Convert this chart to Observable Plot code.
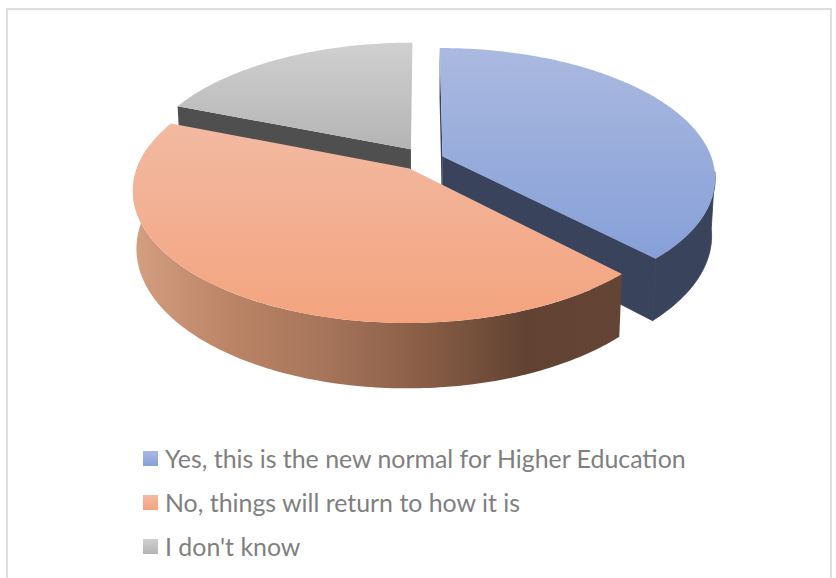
<!DOCTYPE html>
<html><head><meta charset="utf-8">
<script src="https://cdn.jsdelivr.net/npm/d3@7"></script>
<script src="https://cdn.jsdelivr.net/npm/@observablehq/plot@0.6"></script>
<style>
html,body{margin:0;padding:0;background:#fff;width:836px;height:578px;overflow:hidden}
#frame{position:absolute;left:6px;top:8px;width:826px;height:580px;border:2px solid #dedede;box-sizing:border-box}
#chart{position:absolute;left:0;top:0}
#legend{position:absolute;left:143px;top:436px;font-family:Lato,sans-serif;font-size:24.9px;color:#7f7f7f}
.row{display:flex;align-items:center;height:44px}
.sw{width:15px;height:15px;margin-right:7px;flex:none}
</style></head><body>
<div id="frame"></div><div id="chart"></div><div id="legend"></div>
<script>
const labels = ["Yes, this is the new normal for Higher Education","No, things will return to how it is","I don't know"];
const shares = [37.8, 43.2, 19.0];
const topLight = ["#aab9e0","#f2baa2","#d0d0d0"];
const topDark  = ["#87a0d8","#f4a37e","#b4b4b4"];
const wallStops = [["#39435c","#343e58"],["#d49e80","#bb8467","#a5745a","#885d45","#624333","#644535"],["#4f4f4f","#4f4f4f"]];
const explodeU = [0.076,-0.046,-0.042];
const explodeV = [0.032,-0.062,0.09];

const cam = {cx:421.6, cy:160, rx:270, ry:127, k:0.16, d:57, m:0.012};
const rimFrom = 97*Math.PI/180, rimTo = 280*Math.PI/180;
function project(u,v,z){
  const s = 1/(1+cam.k*v+cam.m*z);
  return {x:cam.cx+cam.rx*u*s, y:cam.cy+(-cam.ry*v+cam.d*z)*s};
}
let acc=0;
const total=d3.sum(shares);
const slices=shares.map((s,i)=>{const a0=acc/total*2*Math.PI;acc+=s;return {i,a0,a1:acc/total*2*Math.PI,u0:explodeU[i],v0:explodeV[i]};});
function arc(sl,z,a0=sl.a0,a1=sl.a1){
  const n=Math.max(2,Math.round((a1-a0)*60)),p=[];
  for(let j=0;j<=n;j++){const a=a0+(a1-a0)*j/n;p.push(project(sl.u0+Math.sin(a),sl.v0+Math.cos(a),z));}
  return p;
}
const apex=(sl,z)=>project(sl.u0,sl.v0,z);
const topFace=sl=>[apex(sl,0),...arc(sl,0)];
function rimWall(sl){
  const a0=Math.max(sl.a0,rimFrom),a1=Math.min(sl.a1,rimTo);
  return [...arc(sl,0,a0,a1),...arc(sl,1,a0,a1).reverse()];
}
function cutWall(sl,a){
  const e=z=>project(sl.u0+Math.sin(a),sl.v0+Math.cos(a),z);
  return [apex(sl,0),e(0),e(1),apex(sl,1)];
}
const poly=(pts,fill,sw=0)=>Plot.line(pts,{x:"x",y:"y",fill,stroke:fill,strokeWidth:sw,curve:"linear-closed"});

const defs=()=>{
  const d=d3.create("svg:defs");
  shares.forEach((_,i)=>{
    const t=d.append("linearGradient").attr("id","top"+i).attr("x1",0).attr("x2",0).attr("y1",0).attr("y2",1);
    t.append("stop").attr("offset",0).attr("stop-color",topLight[i]);
    t.append("stop").attr("offset",1).attr("stop-color",topDark[i]);
    const w=d.append("linearGradient").attr("id","wall"+i);
    wallStops[i].forEach((c,j,a)=>w.append("stop").attr("offset",j/(a.length-1)).attr("stop-color",c));
  });
  return d.node();
};
const [blue,orange,gray]=slices;
const marks=[
  defs,
  poly(cutWall(gray,gray.a0),"#4f4f4f"),
  poly(topFace(gray),"url(#top2)"),
  poly(cutWall(blue,blue.a0),"#39435c"),
  poly(rimWall(blue),"#39435c",0.8),
  poly(cutWall(blue,blue.a1),"#39435c",0.8),
  poly(topFace(blue),"url(#top0)"),
  poly(rimWall(orange),"url(#wall1)"),
  poly(topFace(orange),"url(#top1)")
];
const chart=Plot.plot({width:836,height:430,margin:0,
  x:{domain:[0,836],range:[0,836],axis:null},
  y:{domain:[0,430],range:[0,430],axis:null},
  style:{background:"transparent"},marks});
document.getElementById("chart").append(chart);
const lg=document.getElementById("legend");
labels.forEach((t,i)=>{
  const r=document.createElement("div");r.className="row";
  const s=document.createElement("div");s.className="sw";s.style.background=`linear-gradient(${topLight[i]},${topDark[i]})`;
  const l=document.createElement("span");l.textContent=t;
  r.append(s,l);lg.append(r);
});
</script></body></html>
